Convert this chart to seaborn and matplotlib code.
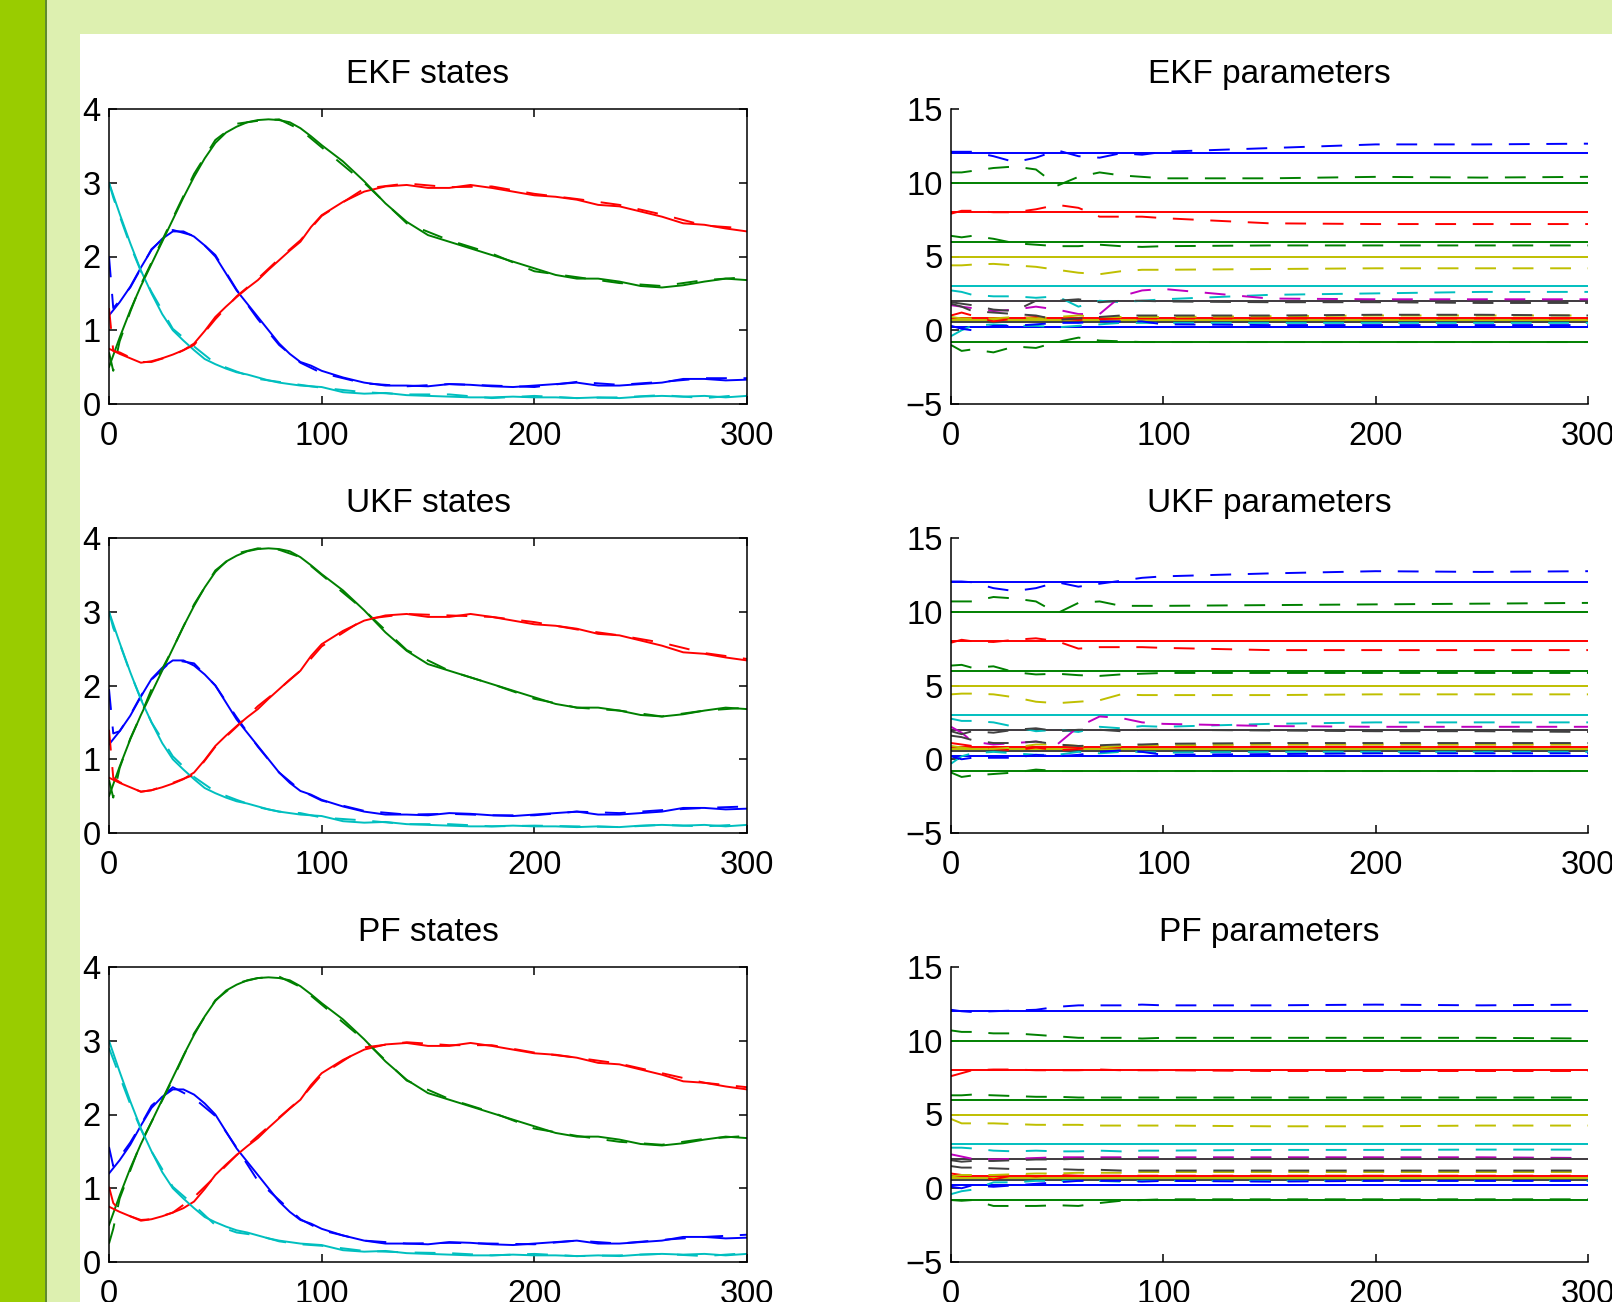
import numpy as np
import matplotlib
matplotlib.use("Agg")
import matplotlib.pyplot as plt
from matplotlib.patches import Rectangle
import seaborn as sns

# ---- state trajectories (true values) ----
T_ST = [0, 5, 10, 15, 20, 25, 30, 35, 40, 45, 50, 55, 60, 65, 70, 75, 80, 85, 90, 95,
        100, 110, 120, 130, 140, 150, 160, 170, 180, 190, 200, 210, 220, 230, 240, 250,
        260, 270, 280, 290, 300]

BLUE_TRUE = [1.20, 1.38, 1.59, 1.85, 2.09, 2.24, 2.34, 2.34, 2.27, 2.15, 2.00, 1.77, 1.54, 1.36,
             1.18, 1.00, 0.82, 0.68, 0.57, 0.52,
             0.45, 0.36, 0.29, 0.25, 0.25, 0.24, 0.27, 0.26, 0.24, 0.23, 0.25, 0.27, 0.29, 0.25,
             0.25, 0.27, 0.29, 0.34, 0.34, 0.32, 0.33]
GREEN_TRUE = [0.50, 0.90, 1.27, 1.60, 1.90, 2.20, 2.50, 2.80, 3.08, 3.33, 3.54, 3.68, 3.76, 3.82,
              3.85, 3.86, 3.85, 3.82, 3.74, 3.63,
              3.51, 3.29, 3.02, 2.72, 2.47, 2.29, 2.20, 2.11, 2.02, 1.93, 1.84, 1.75, 1.70, 1.70,
              1.66, 1.60, 1.58, 1.61, 1.66, 1.70, 1.68]
RED_TRUE = [0.75, 0.68, 0.62, 0.56, 0.58, 0.62, 0.67, 0.73, 0.82, 0.99, 1.18, 1.32, 1.45, 1.57,
            1.68, 1.82, 1.95, 2.08, 2.20, 2.40,
            2.56, 2.74, 2.88, 2.95, 2.97, 2.93, 2.93, 2.97, 2.93, 2.88, 2.83, 2.81, 2.77, 2.70,
            2.68, 2.61, 2.54, 2.45, 2.43, 2.38, 2.34]
CYAN_TRUE = [3.00, 2.58, 2.18, 1.81, 1.50, 1.22, 1.00, 0.86, 0.73, 0.61, 0.54, 0.48, 0.43, 0.40,
             0.36, 0.32, 0.29, 0.27, 0.25, 0.24,
             0.23, 0.16, 0.14, 0.15, 0.12, 0.11, 0.10, 0.09, 0.09, 0.10, 0.09, 0.09, 0.08, 0.09,
             0.08, 0.10, 0.11, 0.10, 0.11, 0.09, 0.11]

# ---- state estimates ----
T_EST = [0, 2, 5, 10, 15, 20, 30, 40, 50, 60, 70, 80, 90, 100, 120, 140, 160, 180, 200, 220,
         240, 260, 280, 300]

EKF_BLUE = [2.00, 1.30, 1.40, 1.58, 1.84, 2.10, 2.36, 2.28, 2.02, 1.55, 1.15, 0.80, 0.56, 0.42,
            0.28, 0.24, 0.27, 0.25, 0.23, 0.30, 0.26, 0.30, 0.35, 0.35]
EKF_GREEN = [0.70, 0.45, 0.85, 1.25, 1.62, 1.92, 2.52, 3.12, 3.58, 3.80, 3.84, 3.86, 3.72, 3.48,
             3.00, 2.45, 2.22, 2.04, 1.80, 1.72, 1.64, 1.60, 1.68, 1.72]
EKF_RED = [1.30, 0.72, 0.70, 0.63, 0.57, 0.57, 0.66, 0.80, 1.15, 1.46, 1.70, 1.97, 2.22, 2.55,
           2.92, 2.99, 2.94, 2.95, 2.85, 2.78, 2.70, 2.57, 2.42, 2.38]
EKF_CYAN = [3.00, 2.80, 2.55, 2.15, 1.80, 1.52, 1.02, 0.78, 0.55, 0.44, 0.34, 0.30, 0.26, 0.22,
            0.16, 0.13, 0.13, 0.08, 0.11, 0.08, 0.09, 0.12, 0.08, 0.13]

UKF_BLUE = [1.95, 1.35, 1.38, 1.60, 1.86, 2.08, 2.35, 2.30, 2.00, 1.57, 1.17, 0.82, 0.58, 0.44,
            0.30, 0.25, 0.26, 0.24, 0.24, 0.29, 0.27, 0.31, 0.34, 0.36]
UKF_GREEN = [0.72, 0.48, 0.88, 1.28, 1.60, 1.95, 2.50, 3.10, 3.56, 3.79, 3.86, 3.84, 3.74, 3.50,
             3.02, 2.48, 2.20, 2.02, 1.82, 1.70, 1.66, 1.58, 1.66, 1.70]
UKF_RED = [1.40, 0.75, 0.69, 0.62, 0.56, 0.58, 0.68, 0.79, 1.17, 1.44, 1.72, 1.95, 2.20, 2.53,
           2.90, 2.97, 2.95, 2.93, 2.86, 2.76, 2.68, 2.58, 2.44, 2.36]
UKF_CYAN = [3.00, 2.78, 2.57, 2.17, 1.82, 1.50, 1.04, 0.76, 0.56, 0.45, 0.35, 0.29, 0.27, 0.21,
            0.17, 0.12, 0.12, 0.09, 0.10, 0.09, 0.08, 0.11, 0.09, 0.12]

PF_BLUE = [1.56, 1.30, 1.42, 1.62, 1.86, 2.12, 2.37, 2.22, 1.98, 1.55, 1.10, 0.84, 0.58, 0.43,
           0.29, 0.25, 0.26, 0.25, 0.24, 0.29, 0.25, 0.30, 0.34, 0.37]
PF_GREEN = [0.25, 0.45, 0.86, 1.24, 1.62, 1.90, 2.48, 3.10, 3.55, 3.78, 3.85, 3.87, 3.73, 3.49,
            3.01, 2.46, 2.21, 2.03, 1.81, 1.71, 1.63, 1.59, 1.67, 1.71]
PF_RED = [1.02, 0.80, 0.70, 0.62, 0.57, 0.58, 0.67, 0.88, 1.16, 1.45, 1.71, 1.96, 2.21, 2.54,
          2.91, 2.98, 2.94, 2.94, 2.84, 2.77, 2.69, 2.56, 2.43, 2.37]
PF_CYAN = [2.90, 2.75, 2.52, 2.14, 1.80, 1.50, 1.02, 0.77, 0.50, 0.40, 0.36, 0.28, 0.24, 0.22,
           0.15, 0.13, 0.12, 0.09, 0.11, 0.08, 0.09, 0.11, 0.08, 0.12]

# ---- parameters: true values and estimates ----
PAR_TRUE = [12, 10, 8, 6, 5, 3, 2, 2, 0.8, 0.7, 0.55, 0.2, 0.2, -0.8]
PAR_COLOR = ["b", "g", "r", "g", "y", "c", "m", "k", "r", "y", "k", "c", "b", "g"]

T_PAR = [0, 5, 10, 20, 30, 40, 50, 60, 70, 80, 90, 100, 150, 200, 250, 300]

EKF_P01 = [12.1, 12.1, 12.1, 11.8, 11.4, 11.7, 12.2, 11.8, 11.7, 12.0, 11.9, 12.1, 12.35, 12.6, 12.6, 12.65]
EKF_P02 = [10.7, 10.7, 10.8, 11.0, 11.1, 10.9, 9.8, 10.4, 10.7, 10.5, 10.4, 10.3, 10.3, 10.4, 10.35, 10.4]
EKF_P03 = [7.9, 8.1, 8.1, 8.0, 8.0, 8.2, 8.5, 8.3, 7.7, 7.7, 7.7, 7.6, 7.25, 7.2, 7.2, 7.2]
EKF_P04 = [6.4, 6.3, 6.4, 6.2, 5.9, 5.8, 5.7, 5.7, 5.8, 5.7, 5.65, 5.7, 5.75, 5.75, 5.75, 5.75]
EKF_P05 = [4.4, 4.4, 4.45, 4.5, 4.4, 4.3, 4.1, 3.9, 3.8, 4.0, 4.1, 4.1, 4.15, 4.2, 4.2, 4.2]
EKF_P06 = [2.7, 2.6, 2.4, 2.3, 2.3, 2.2, 2.3, 1.6, 2.0, 1.9, 2.0, 2.1, 2.4, 2.5, 2.6, 2.6]
EKF_P07 = [1.7, 1.6, 1.5, 1.3, 1.4, 1.6, 1.4, 1.1, 1.1, 2.3, 2.7, 2.8, 2.15, 2.1, 2.1, 2.1]
EKF_P08 = [1.9, 1.8, 1.7, 1.4, 1.3, 2.0, 2.0, 2.1, 1.9, 2.0, 2.0, 1.95, 1.9, 1.9, 1.85, 1.85]
EKF_P09 = [1.0, 1.2, 1.0, 0.6, 0.8, 0.9, 0.8, 0.7, 0.75, 0.8, 0.8, 0.8, 0.8, 0.8, 0.8, 0.8]
EKF_P10 = [0.9, 0.8, 0.8, 0.8, 0.9, 0.8, 0.9, 1.0, 0.9, 0.9, 0.9, 0.9, 0.95, 1.0, 1.0, 1.0]
EKF_P11 = [1.8, 1.6, 1.3, 1.2, 1.1, 1.0, 0.7, 0.8, 0.9, 1.0, 1.0, 1.0, 1.0, 1.05, 1.05, 1.0]
EKF_P12 = [-0.4, 0.0, 0.3, 0.4, 0.3, 0.3, 0.2, 0.3, 0.4, 0.5, 0.5, 0.5, 0.5, 0.5, 0.5, 0.5]
EKF_P13 = [0.3, 0.1, 0.0, 0.3, 0.3, 0.4, 0.5, 0.5, 0.6, 0.6, 0.6, 0.4, 0.35, 0.35, 0.35, 0.35]
EKF_P14 = [-1.0, -1.4, -1.3, -1.5, -1.1, -1.2, -0.8, -0.5, -0.7, -0.75, -0.8, -0.8, -0.8, -0.8, -0.8, -0.8]

UKF_P01 = [12.05, 12.05, 12.0, 11.6, 11.4, 11.6, 12.0, 11.7, 11.9, 12.1, 12.3, 12.4, 12.6, 12.75, 12.7, 12.75]
UKF_P02 = [10.7, 10.7, 10.7, 11.0, 10.9, 10.7, 9.9, 10.6, 10.7, 10.4, 10.4, 10.4, 10.45, 10.5, 10.55, 10.6]
UKF_P03 = [7.9, 8.1, 8.0, 7.95, 8.1, 8.2, 8.0, 7.5, 7.6, 7.6, 7.6, 7.55, 7.4, 7.4, 7.4, 7.4]
UKF_P04 = [6.35, 6.4, 6.2, 6.3, 5.9, 5.75, 5.8, 5.7, 5.65, 5.75, 5.8, 5.85, 5.85, 5.85, 5.85, 5.85]
UKF_P05 = [4.4, 4.45, 4.45, 4.4, 4.2, 3.9, 3.8, 3.9, 4.0, 4.4, 4.35, 4.35, 4.35, 4.4, 4.4, 4.4]
UKF_P06 = [2.75, 2.6, 2.6, 2.5, 2.2, 1.9, 2.0, 1.85, 2.2, 2.1, 2.25, 2.2, 2.4, 2.5, 2.5, 2.5]
UKF_P07 = [2.2, 1.8, 1.2, 1.0, 1.1, 1.2, 1.0, 2.2, 2.9, 2.8, 2.5, 2.4, 2.25, 2.2, 2.2, 2.2]
UKF_P08 = [1.9, 1.7, 1.9, 1.8, 2.0, 2.1, 1.9, 2.0, 2.0, 1.9, 2.0, 2.0, 1.95, 1.9, 1.9, 1.85]
UKF_P09 = [1.1, 1.0, 0.9, 0.7, 0.6, 0.8, 0.6, 0.7, 0.8, 0.8, 0.85, 0.85, 0.85, 0.85, 0.85, 0.85]
UKF_P10 = [0.9, 0.8, 0.7, 0.7, 0.8, 1.0, 1.0, 0.9, 0.8, 0.9, 0.95, 0.95, 1.0, 1.0, 1.0, 1.0]
UKF_P11 = [1.6, 1.5, 1.3, 1.1, 1.1, 1.2, 1.0, 0.9, 0.95, 1.0, 1.0, 1.05, 1.1, 1.1, 1.1, 1.1]
UKF_P12 = [-0.3, 0.2, 0.4, 0.5, 0.4, 0.3, 0.3, 0.5, 0.4, 0.5, 0.5, 0.45, 0.5, 0.5, 0.5, 0.5]
UKF_P13 = [0.2, 0.0, 0.1, 0.1, 0.1, 0.3, 0.2, 0.3, 0.5, 0.6, 0.5, 0.3, 0.35, 0.4, 0.4, 0.4]
UKF_P14 = [-0.9, -1.2, -1.1, -1.0, -0.9, -0.7, -0.8, -0.8, -0.8, -0.8, -0.8, -0.8, -0.8, -0.8, -0.8, -0.8]

PF_P01 = [12.1, 12.0, 11.95, 12.0, 12.05, 12.1, 12.3, 12.4, 12.4, 12.4, 12.45, 12.4, 12.4, 12.45, 12.4, 12.45]
PF_P02 = [10.7, 10.6, 10.6, 10.5, 10.5, 10.4, 10.3, 10.2, 10.2, 10.2, 10.15, 10.2, 10.2, 10.2, 10.2, 10.15]
PF_P03 = [7.6, 7.8, 8.0, 8.05, 8.05, 8.0, 8.0, 8.0, 8.05, 8.0, 8.0, 8.0, 7.95, 7.95, 7.95, 7.95]
PF_P04 = [6.3, 6.3, 6.35, 6.3, 6.25, 6.2, 6.2, 6.15, 6.15, 6.15, 6.15, 6.15, 6.15, 6.15, 6.15, 6.15]
PF_P05 = [4.7, 4.4, 4.4, 4.4, 4.35, 4.3, 4.3, 4.3, 4.25, 4.25, 4.25, 4.25, 4.2, 4.2, 4.25, 4.25]
PF_P06 = [2.75, 2.75, 2.7, 2.55, 2.5, 2.55, 2.5, 2.5, 2.55, 2.5, 2.55, 2.55, 2.6, 2.6, 2.62, 2.62]
PF_P07 = [2.3, 2.15, 2.0, 1.95, 2.0, 2.05, 2.1, 2.1, 2.1, 2.1, 2.1, 2.1, 2.1, 2.1, 2.1, 2.05]
PF_P08 = [1.9, 1.8, 1.85, 1.85, 1.9, 1.95, 1.95, 2.0, 2.0, 2.0, 2.0, 2.0, 2.0, 2.0, 2.0, 2.0]
PF_P09 = [1.0, 0.9, 0.85, 0.6, 0.9, 0.8, 0.9, 0.85, 0.85, 0.85, 0.85, 0.85, 0.85, 0.85, 0.85, 0.85]
PF_P10 = [0.8, 0.9, 0.9, 0.9, 0.95, 1.0, 1.0, 1.05, 1.05, 1.05, 1.1, 1.1, 1.1, 1.1, 1.1, 1.1]
PF_P11 = [1.5, 1.4, 1.4, 1.35, 1.3, 1.3, 1.3, 1.25, 1.25, 1.2, 1.2, 1.2, 1.2, 1.2, 1.2, 1.2]
PF_P12 = [-0.4, -0.2, -0.1, 0.4, 0.4, 0.5, 0.5, 0.5, 0.5, 0.45, 0.5, 0.5, 0.5, 0.5, 0.5, 0.5]
PF_P13 = [0.1, 0.0, 0.2, 0.1, 0.2, 0.3, 0.4, 0.5, 0.5, 0.5, 0.45, 0.5, 0.45, 0.5, 0.5, 0.5]
PF_P14 = [-0.8, -0.85, -0.8, -1.2, -1.2, -1.2, -1.15, -1.2, -1.0, -0.85, -0.8, -0.75, -0.75, -0.75, -0.75, -0.75]

STATE_TRUE = [BLUE_TRUE, GREEN_TRUE, RED_TRUE, CYAN_TRUE]
STATE_COLOR = ["b", "g", "r", "c"]
FILTERS = [
    ("EKF", [EKF_BLUE, EKF_GREEN, EKF_RED, EKF_CYAN],
     [EKF_P01, EKF_P02, EKF_P03, EKF_P04, EKF_P05, EKF_P06, EKF_P07,
      EKF_P08, EKF_P09, EKF_P10, EKF_P11, EKF_P12, EKF_P13, EKF_P14]),
    ("UKF", [UKF_BLUE, UKF_GREEN, UKF_RED, UKF_CYAN],
     [UKF_P01, UKF_P02, UKF_P03, UKF_P04, UKF_P05, UKF_P06, UKF_P07,
      UKF_P08, UKF_P09, UKF_P10, UKF_P11, UKF_P12, UKF_P13, UKF_P14]),
    ("PF", [PF_BLUE, PF_GREEN, PF_RED, PF_CYAN],
     [PF_P01, PF_P02, PF_P03, PF_P04, PF_P05, PF_P06, PF_P07,
      PF_P08, PF_P09, PF_P10, PF_P11, PF_P12, PF_P13, PF_P14]),
]

# old matlab colour order
MATLAB = {"b": (0, 0, 1), "g": (0, 0.5, 0), "r": (1, 0, 0), "c": (0, 0.75, 0.75),
          "m": (0.75, 0, 0.75), "y": (0.75, 0.75, 0), "k": (0.25, 0.25, 0.25)}

LIGHT = "#ddf0b0"
BAR = "#99cc00"
LW = 1.4
DASH = (0, (15, 12))

sns.set_style("white")
plt.rcParams["font.family"] = ["Liberation Sans", "DejaVu Sans"]
plt.rcParams["lines.scale_dashes"] = False
plt.rcParams["axes.unicode_minus"] = True
plt.rcParams["text.color"] = "black"
plt.rcParams["axes.labelcolor"] = "black"
plt.rcParams["xtick.color"] = "black"
plt.rcParams["ytick.color"] = "black"

W, H = 1612, 1302
fig = plt.figure(figsize=(W / 100, H / 100), dpi=100, facecolor=LIGHT)

# slide background: light green frame, white panel, dark green side bar
fig.patches.append(Rectangle((80 / W, 0), 1, 1 - 34 / H, transform=fig.transFigure,
                             facecolor="white", edgecolor="none", zorder=-5))
fig.patches.append(Rectangle((0, 0), 45 / W, 1, transform=fig.transFigure,
                             facecolor=BAR, edgecolor="none", zorder=-4))
fig.patches.append(Rectangle((45 / W, 0), 1.5 / W, 1, transform=fig.transFigure,
                             facecolor="#5f8a30", edgecolor="none", zorder=-4))

LEFT = [109 / W, (747 - 109) / W]
RIGHT = [951 / W, (1588 - 951) / W]
TOPS = [109, 538, 967]
AX_H = 295


def style(ax, ylim, yticks, box):
    ax.set_facecolor("white")
    ax.set_xlim(0, 300)
    ax.set_ylim(*ylim)
    ax.set_xticks([0, 100, 200, 300])
    ax.set_yticks(yticks)
    ax.set_xlabel("")
    ax.set_ylabel("")
    ax.tick_params(direction="in", length=6, width=1.1, colors="black",
                   labelsize=23.5, top=box, right=box, bottom=True, left=True)
    ax.tick_params(axis="x", pad=12)
    ax.tick_params(axis="y", pad=6)
    for side in ["left", "bottom", "top", "right"]:
        ax.spines[side].set_color("black")
        ax.spines[side].set_linewidth(1.1)
        ax.spines[side].set_visible(box or side in ("left", "bottom"))


for row, (name, state_est, par_est) in enumerate(FILTERS):
    bottom = 1 - (TOPS[row] + AX_H) / H
    ax_s = fig.add_axes([LEFT[0], bottom, LEFT[1], AX_H / H])
    ax_p = fig.add_axes([RIGHT[0], bottom, RIGHT[1], AX_H / H])

    for truth, c in zip(STATE_TRUE, STATE_COLOR):
        sns.lineplot(x=T_ST, y=truth, color=MATLAB[c], linewidth=LW,
                     estimator=None, sort=False, ax=ax_s)
    for est, c in zip(state_est, STATE_COLOR):
        sns.lineplot(x=T_EST, y=est, color=MATLAB[c], linewidth=LW, linestyle=DASH,
                     estimator=None, sort=False, ax=ax_s)
    style(ax_s, (0, 4), [0, 1, 2, 3, 4], True)
    ax_s.set_title(f"{name} states", fontsize=24, pad=19, color="black")

    for v, c in zip(PAR_TRUE, PAR_COLOR):
        sns.lineplot(x=T_PAR, y=np.full(len(T_PAR), v), color=MATLAB[c], linewidth=LW,
                     estimator=None, sort=False, ax=ax_p)
    for est, c in zip(par_est, PAR_COLOR):
        sns.lineplot(x=T_PAR, y=est, color=MATLAB[c], linewidth=LW, linestyle=DASH,
                     estimator=None, sort=False, ax=ax_p)
    style(ax_p, (-5, 15), [-5, 0, 5, 10, 15], False)
    ax_p.set_title(f"{name} parameters", fontsize=24, pad=19, color="black")

fig.savefig("out.png", dpi=100, facecolor=LIGHT)
